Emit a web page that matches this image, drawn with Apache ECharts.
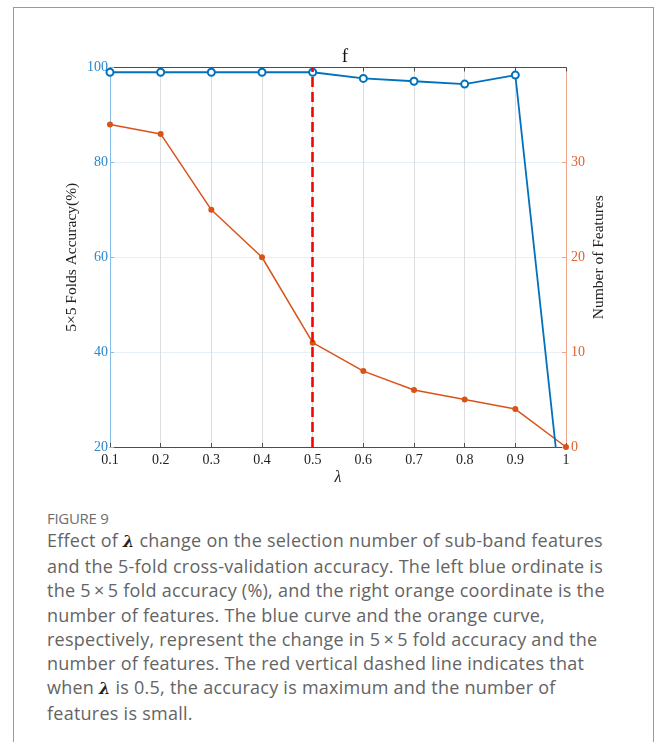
<!DOCTYPE html>
<html>
<head>
<meta charset="utf-8">
<script src="https://cdn.jsdelivr.net/npm/echarts@6/dist/echarts.min.js"></script>
<style>
  html, body { margin: 0; padding: 0; background: #fff; }
  #card { position: absolute; left: 13px; top: 7px; width: 641px; height: 780px; border: 1px solid #9a9a9a; box-sizing: border-box; }
  #chart { position: absolute; left: 0; top: 0; width: 657px; height: 500px; }
  #caption { position: absolute; left: 47px; top: 507px; width: 600px; font-family: "Open Sans", Lato, sans-serif; color: #646464; white-space: nowrap; }
  #caption .fig { font-size: 15px; color: #6e6e6e; line-height: 22px; letter-spacing: -0.3px; }
  #caption .txt { font-size: 18px; line-height: 24.2px; margin-top: -1px; letter-spacing: 0.25px; }
  .lam { font-family: "DejaVu Serif", serif; font-style: italic; font-weight: bold; color: #222; font-size: 16px; }
</style>
</head>
<body>
<div id="card"></div>
<div id="chart"></div>
<div id="caption">
  <div class="fig">FIGURE 9</div>
  <div class="txt">Effect of <span class="lam">λ</span> change on the selection number of sub-band features<br>and the 5-fold cross-validation accuracy. The left blue ordinate is<br>the 5&thinsp;×&thinsp;5 fold accuracy (%), and the right orange coordinate is the<br>number of features. The blue curve and the orange curve,<br>respectively, represent the change in 5&thinsp;×&thinsp;5 fold accuracy and the<br>number of features. The red vertical dashed line indicates that<br>when <span class="lam">λ</span> is 0.5, the accuracy is maximum and the number of<br>features is small.</div>
</div>
<script>
const lambdaValues = [0.1, 0.2, 0.3, 0.4, 0.5, 0.6, 0.7, 0.8, 0.9, 1.0];
const accuracy = [99.0, 99.0, 99.0, 99.0, 99.0, 97.7, 97.1, 96.5, 98.4, 0];
const featureCount = [34, 33, 25, 20, 11, 8, 6, 5, 4, 0];
const leftTicks = [20, 40, 60, 80, 100];
const rightTicks = [0, 10, 20, 30];
const bestLambda = 0.5;

const serif = '"Liberation Serif", "Times New Roman", serif';
const blue = '#0072BD';
const orange = '#D95319';

const chart = echarts.init(document.getElementById('chart'), null, { renderer: 'canvas' });
chart.setOption({
  animation: false,
  backgroundColor: 'transparent',
  title: {
    text: 'f', left: 340, top: 43, textAlign: 'center',
    textStyle: { fontFamily: serif, fontSize: 19, fontWeight: 'normal', color: '#111' }
  },
  grid: { left: 110, right: 91, top: 67.5, bottom: 53 },
  xAxis: [{
    type: 'value', min: 0.1, max: 1, interval: 0.1, position: 'bottom',
    name: 'λ', nameLocation: 'middle', nameGap: 23, nameMoveOverlap: false,
    nameTextStyle: { fontFamily: serif, fontStyle: 'italic', fontSize: 16, color: '#222' },
    axisLine: { lineStyle: { color: '#4d4d4d', width: 1 } },
    axisTick: { inside: true, length: 4, lineStyle: { color: '#4d4d4d' } },
    axisLabel: { fontFamily: serif, fontSize: 14, color: '#222', margin: 6,
      formatter: v => String(+v.toFixed(1)) },
    splitLine: { show: true, lineStyle: { color: '#dedede', width: 1 } }
  }, {
    type: 'value', min: 0.1, max: 1, interval: 0.1, position: 'top',
    axisLine: { show: true, lineStyle: { color: '#4d4d4d', width: 1 } },
    axisTick: { show: true, inside: true, length: 4, lineStyle: { color: '#4d4d4d' } },
    axisLabel: { show: false }, splitLine: { show: false }
  }],
  yAxis: [{
    type: 'value', min: 20, max: 100, interval: 20, position: 'left',
    name: '5×5 Folds Accuracy(%)', nameLocation: 'middle', nameGap: 30, nameRotate: 90,
    nameMoveOverlap: false,
    nameTextStyle: { fontFamily: serif, fontSize: 15.5, color: '#222' },
    axisLine: { show: true, lineStyle: { color: '#86bde6', width: 1 } },
    axisTick: { show: true, inside: true, length: 4, lineStyle: { color: '#86bde6' } },
    axisLabel: { fontFamily: serif, fontSize: 14, color: '#2b87cc', margin: 2,
      customValues: leftTicks },
    splitLine: { show: true, lineStyle: { color: '#e8f0f7', width: 1 } }
  }, {
    type: 'value', min: 0, max: 40, interval: 10, position: 'right',
    name: 'Number of Features', nameLocation: 'middle', nameGap: 25, nameRotate: 90,
    nameMoveOverlap: false,
    nameTextStyle: { fontFamily: serif, fontSize: 15.5, color: '#222' },
    axisLine: { show: true, lineStyle: { color: '#f0a68a', width: 1 } },
    axisTick: { show: true, inside: true, length: 4, lineStyle: { color: '#f0a68a' },
      customValues: rightTicks },
    axisLabel: { fontFamily: serif, fontSize: 14, color: '#e0622d', margin: 5,
      customValues: rightTicks },
    splitLine: { show: false }
  }],
  series: [{
    name: 'Accuracy', type: 'line', xAxisIndex: 0, yAxisIndex: 0, clip: true,
    data: lambdaValues.map((x, i) => [x, accuracy[i]]),
    symbol: 'emptyCircle', symbolSize: 7, showAllSymbol: true,
    lineStyle: { color: blue, width: 1.8 },
    itemStyle: { color: blue, borderColor: blue, borderWidth: 1.6 },
    z: 4,
    markLine: {
      silent: true, symbol: 'none', label: { show: false },
      lineStyle: { color: '#ff0000', width: 2.6, type: [10, 5] },
      data: [{ xAxis: bestLambda }],
      z: 5
    }
  }, {
    name: 'Features', type: 'line', xAxisIndex: 0, yAxisIndex: 1, clip: false,
    data: lambdaValues.map((x, i) => [x, featureCount[i]]),
    symbol: 'circle', symbolSize: 6,
    lineStyle: { color: orange, width: 1.5 },
    itemStyle: { color: orange },
    z: 3
  }]
});
</script>
</body>
</html>
